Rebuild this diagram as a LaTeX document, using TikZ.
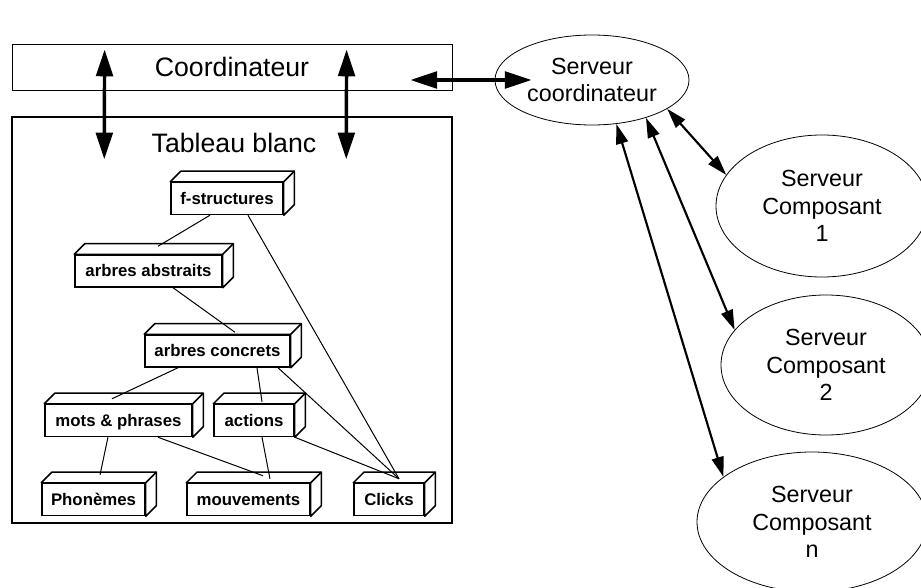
\documentclass[tikz,border=0pt]{standalone}
\usepackage{fontspec}
\setmainfont{Liberation Sans}
\usetikzlibrary{shapes.geometric, arrows.meta}

\newcommand{\boiterelief}[1]{%
    \filldraw[relief] (#1.north west) -- ++(8pt,8pt) -- ([shift={(8pt,8pt)}]#1.north east)
        -- ([shift={(8pt,8pt)}]#1.south east) -- (#1.south east) -- (#1.north east) -- cycle;
    \draw[relief] (#1.north east) -- ++(8pt,8pt);}

\begin{document}
\begin{tikzpicture}[x=0.75pt, y=-0.75pt,
        cadre/.style={draw, inner sep=0pt},
        boite/.style={draw, line width=1.1pt, fill=white, inner sep=0pt, minimum height=24pt,
            text height=8.6pt, text depth=0pt, font=\bfseries\fontsize{12.6}{14}\selectfont},
        relief/.style={line width=1.1pt, fill=white, line join=round},
        serveur/.style={draw, ellipse, inner sep=0pt, align=center, line width=0.6pt,
            font=\fontsize{17.5}{20.5}\selectfont},
        lien/.style={line width=0.75pt},
        grosse/.style={line width=2.6pt, {Triangle[length=20pt,width=12.5pt]}-{Triangle[length=20pt,width=12.5pt]}},
        fleche/.style={line width=1.6pt, {Triangle[length=15pt,width=9pt]}-{Triangle[length=15pt,width=9pt]}}]
    \useasboundingbox (0, 0) rectangle (921, 588);

    % coordinateur et tableau blanc
    \node[cadre, line width=0.6pt, minimum width=330pt, minimum height=34.5pt,
        font=\fontsize{20}{24}\selectfont] (co) at (232, 67) {Coordinateur};
    \node[cadre, line width=1.1pt, minimum width=330pt, minimum height=304.5pt] (tb) at (232, 320) {};
    \node[font=\fontsize{20}{24}\selectfont] (tbt) at (234, 143) {Tableau blanc};

    % serveurs
    \node[serveur, minimum width=145.5pt, minimum height=67.5pt] (sc) at (592, 80) {Serveur\\coordinateur};
    \node[serveur, minimum width=159pt, minimum height=106.5pt] (c1) at (822, 206) {Serveur\\Composant\\1};
    \node[serveur, minimum width=157.5pt, minimum height=105pt] (c2) at (826, 365) {Serveur\\Composant\\2};
    \node[serveur, minimum width=172.5pt, minimum height=105pt] (cn) at (812, 522) {Serveur\\Composant\\n};

    % structures du tableau
    \node[boite, minimum width=84pt] (fs) at (227, 198.5) {f-structures};
    \node[boite, minimum width=110.25pt] (aa) at (148.5, 271) {arbres abstraits};
    \node[boite, minimum width=108.75pt] (ac) at (217.5, 351) {arbres concrets};
    \node[boite, minimum width=110.25pt] (mp) at (118.5, 420.5) {mots \& phrases};
    \node[boite, minimum width=60pt] (act) at (254, 420.5) {actions};
    \node[boite, minimum width=77.25pt] (ph) at (93.5, 499.5) {Phonèmes};
    \node[boite, minimum width=92.25pt] (mv) at (248.5, 499.5) {mouvements};
    \node[boite, minimum width=52.5pt] (cl) at (389, 499.5) {Clicks};
    \foreach \b in {fs, aa, ac, mp, act, ph, mv, cl} {
        \boiterelief{\b}
    }

    \coordinate (clk) at ([xshift=7.5pt, yshift=3pt]cl.north);
    \draw[lien] ([xshift=-12.75pt]fs.south) -- ([xshift=7.1pt, yshift=6pt]aa.north);
    \draw[lien] ([xshift=15.75pt]fs.south) -- (clk);
    \draw[lien] ([xshift=18.4pt]aa.south) -- ([xshift=13.1pt, yshift=1.5pt]ac.north);
    \draw[lien] ([xshift=-29.6pt]ac.south) -- ([xshift=-4.9pt, yshift=3.75pt]mp.north);
    \draw[lien] ([xshift=29.6pt]ac.south) -- ([xshift=6pt, yshift=1.5pt]act.north);
    \draw[lien] ([xshift=45.4pt]ac.south) -- (clk);
    \draw[lien] ([xshift=-7.9pt]mp.south) -- ([xshift=4.9pt, yshift=6pt]ph.north);
    \draw[lien] ([xshift=29.6pt]mp.south) -- ([xshift=10.9pt, yshift=5.25pt]mv.north);
    \draw[lien] ([xshift=6pt]act.south) -- ([xshift=16.1pt, yshift=3pt]mv.north);
    \draw[lien] (act.south east) -- (clk);

    % echanges
    \draw[grosse] ([xshift=69.75pt, yshift=-4.5pt]co.north west) -- ([xshift=69.75pt, yshift=-32.25pt]tb.north west);
    \draw[grosse] ([xshift=251.25pt, yshift=-4.5pt]co.north west) -- ([xshift=251.25pt, yshift=-32.25pt]tb.north west);
    \path (co.east |- sc.west) coordinate (h0);
    \draw[grosse] ([xshift=-31.5pt]h0) -- ([xshift=27.75pt]sc.west);
    \draw[fleche] (sc.-21) -- (c1.162);
    \draw[fleche] (sc.-35) -- (c2.159);
    \draw[fleche] (sc.-61) -- (cn.153);
\end{tikzpicture}
\end{document}
